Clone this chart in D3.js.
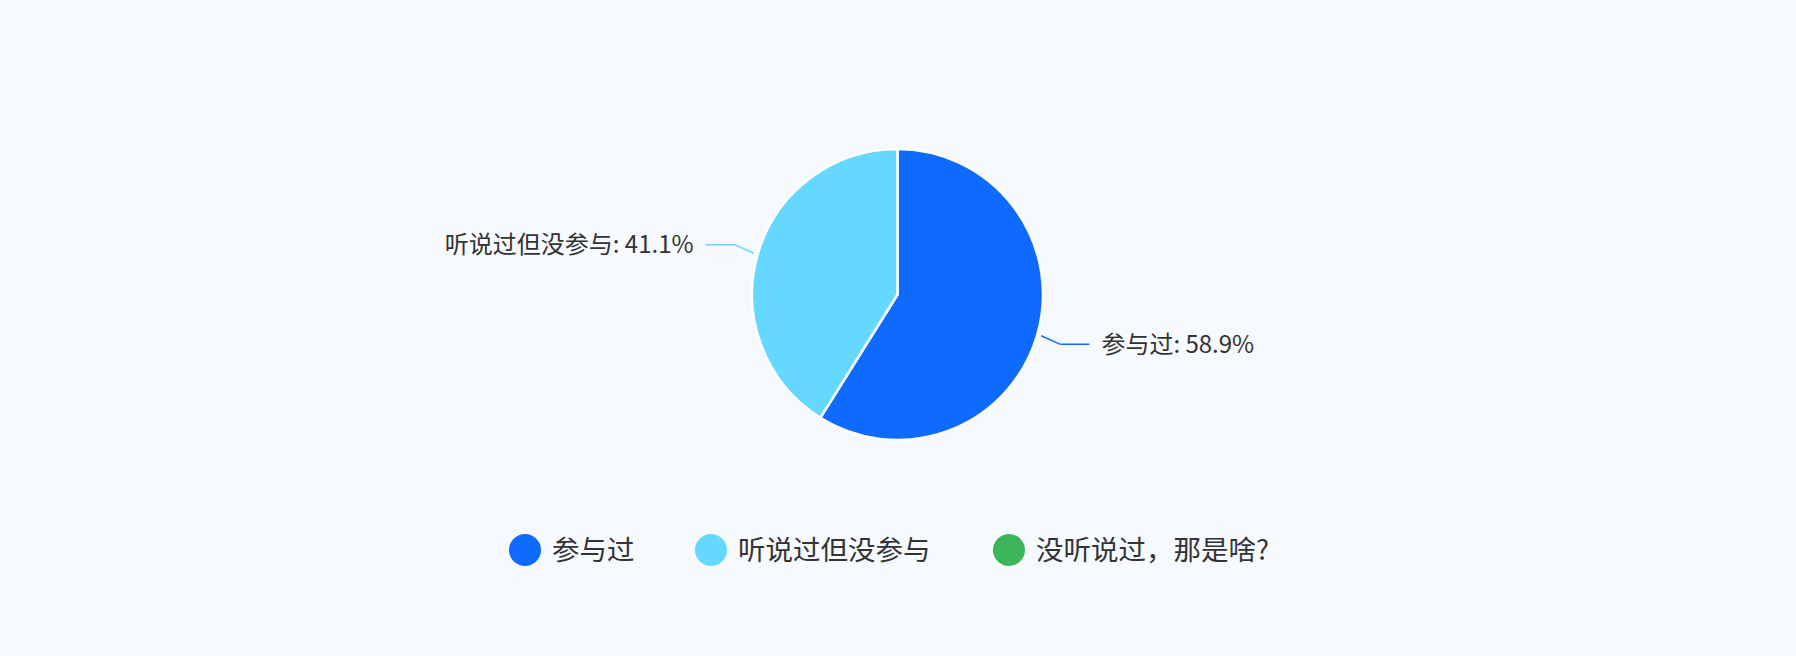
<!DOCTYPE html>
<html><head><meta charset="utf-8">
<script src="https://cdn.jsdelivr.net/npm/d3@7"></script>
<style>
html,body{margin:0;padding:0;background:#f6f9fe;}
svg{display:block;}
text{font-family:"Noto Sans CJK SC","Noto Sans",sans-serif;fill:#333;}
</style></head><body>
<svg id="c" width="1796" height="656"></svg>
<script>
const categories = ["参与过", "听说过但没参与", "没听说过，那是啥?"];
const values = [58.9, 41.1, 0];
const colors = ["#0f6bff", "#65d8ff", "#3db55b"];

const W = 1796, H = 656;
const svg = d3.select("#c");
svg.append("rect").attr("width", W).attr("height", H).attr("fill", "#f6f9fe");

const cx = 897.5, cy = 294.5, R = 145.5;
const data = categories.map((c, i) => ({name: c, value: values[i], color: colors[i]}));
const total = d3.sum(values);
const pie = d3.pie().value(d => d.value).sort(null);
const arcs = pie(data);
const arc = d3.arc().innerRadius(0).outerRadius(R);

const g = svg.append("g").attr("transform", `translate(${cx},${cy})`);
g.selectAll("path.slice").data(arcs.filter(a => a.data.value > 0)).join("path")
  .attr("class", "slice")
  .attr("d", arc)
  .attr("fill", d => d.data.color)
  .attr("stroke", "#ffffff")
  .attr("stroke-width", 2.5)
  .attr("stroke-linejoin", "round");

// labels
const labeled = arcs.filter(a => a.data.value > 0);
labeled.forEach(a => {
  const mid = (a.startAngle + a.endAngle) / 2;
  const sx = Math.sin(mid), sy = -Math.cos(mid);
  const p0 = [(R + 4) * sx, (R + 4) * sy];
  const p1 = [(R + 24) * sx, (R + 24) * sy * 1.065];
  const dir = sx >= 0 ? 1 : -1;
  const p2 = [p1[0] + dir * 29, p1[1]];
  g.append("polyline")
    .attr("points", [p0, p1, p2].map(p => p.join(",")).join(" "))
    .attr("fill", "none")
    .attr("stroke", a.data.color)
    .attr("stroke-width", 1.5);
  g.append("text")
    .attr("x", p2[0] + dir * 12)
    .attr("y", p2[1])
    .attr("dy", "0.35em")
    .attr("text-anchor", dir > 0 ? "start" : "end")
    .attr("font-size", 24)
    .text(`${a.data.name}: ${(a.data.value / total * 100).toFixed(1)}%`);
});

// legend
const legend = svg.append("g");
const itemX = [525, 711, 1009];
data.forEach((d, i) => {
  const lg = legend.append("g").attr("transform", `translate(${itemX[i]},550)`);
  lg.append("circle").attr("r", 16).attr("fill", d.color);
  lg.append("text").attr("x", 27).attr("dy", "0.35em")
    .attr("font-size", 27.5).text(d.name);
});
</script>
</body></html>
